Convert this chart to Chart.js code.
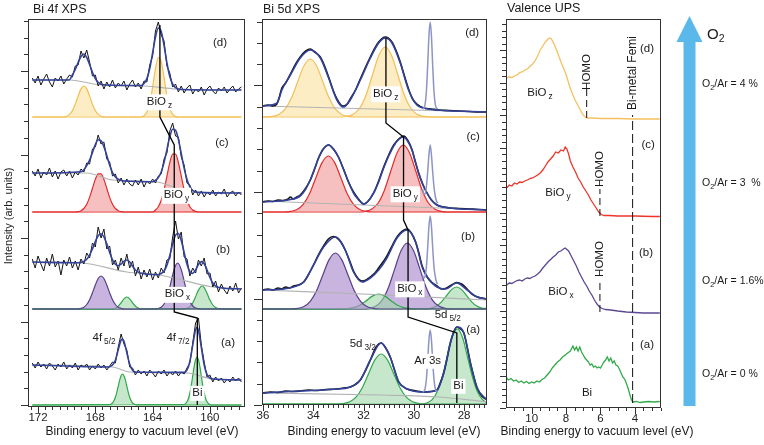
<!DOCTYPE html>
<html><head><meta charset="utf-8">
<script src="https://cdn.jsdelivr.net/npm/chart.js@4.4.1/dist/chart.umd.min.js"></script>
<style>
html,body{margin:0;padding:0;background:#fff;}
#wrap{position:relative;width:764px;height:445px;overflow:hidden;font-family:"Liberation Sans",Arial,sans-serif;color:#1a1a1a;}
canvas{position:absolute;left:0;top:0;}
.t{position:absolute;white-space:nowrap;line-height:14px;}
.xt{position:absolute;width:260px;text-align:center;font-size:12px;line-height:14px;top:424px;white-space:nowrap;}
.ra{position:absolute;left:702px;font-size:10.5px;line-height:12px;white-space:nowrap;}
sub{font-size:70%;vertical-align:-3px;line-height:0;}
</style></head><body>
<div id="wrap">
<canvas id="c1" width="764" height="445"></canvas>
<canvas id="c2" width="764" height="445"></canvas>
<canvas id="c3" width="764" height="445"></canvas>
<svg width="764" height="445" style="position:absolute;left:0;top:0">
<polygon points="689.5,16 702.5,42 695.5,42 695.5,406 683.5,406 683.5,42 676.5,42" fill="#5ab8ea"/>
</svg>
<div class="t" style="left:33px;top:2px;font-size:12.5px">Bi 4f XPS</div>
<div class="t" style="left:263px;top:2px;font-size:12.5px">Bi 5d XPS</div>
<div class="t" style="left:507px;top:1px;font-size:12.5px">Valence UPS</div>
<div class="t" style="left:8px;top:216px;font-size:11px;transform:translate(-50%,-50%) rotate(-90deg);">Intensity (arb. units)</div>
<div class="xt" style="left:12px">Binding energy to vacuum level (eV)</div>
<div class="xt" style="left:254px">Binding energy to vacuum level (eV)</div>
<div class="xt" style="left:467px">Binding energy to vacuum level (eV)</div>
<div class="t" style="left:707px;top:27px;font-size:15px;">O<sub>2</sub></div>
<div class="ra" style="top:77px">O<sub>2</sub>/Ar = 4 %</div>
<div class="ra" style="top:176px">O<sub>2</sub>/Ar = 3 &nbsp;%</div>
<div class="ra" style="top:274px">O<sub>2</sub>/Ar = 1.6%</div>
<div class="ra" style="top:367px">O<sub>2</sub>/Ar = 0 %</div>
</div>
<script>
const FF = '"Liberation Sans", Arial, sans-serif';

// ================= Panel 1 : Bi 4f XPS =================
const bi4fTicks = [172, 168, 164, 160];
// raw counts on a 0.2 eV grid from 172.4 eV down to 157.8 eV
const rawD1 = [329,324,331,322,328,333,325,320,329,326,331,323,328,332,330,341,342,356,349,357,345,331,332,321,326,318,325,320,327,319,324,321,326,317,323,327,320,324,318,326,325,342,351,376,385,372,366,341,334,320,323,315,321,314,319,322,313,318,315,320,312,318,321,316,313,319,316,320,314,318,321,315,318,320];
const rawC1 = [236,231,238,229,235,232,239,230,236,228,235,237,231,236,229,235,232,238,235,244,243,258,260,272,263,265,248,245,231,233,224,229,222,228,223,221,227,222,228,220,226,223,228,224,231,233,248,254,276,284,271,270,250,242,224,222,212,217,211,216,210,215,212,217,211,215,213,218,210,214,216,211,215,212];
const rawB1 = [148,139,151,143,136,149,141,153,140,146,132,147,141,150,139,146,137,148,143,154,149,164,160,180,169,178,158,161,142,147,137,149,141,153,139,146,131,140,128,137,130,138,127,135,129,139,134,147,148,170,186,168,175,150,148,131,139,134,147,141,149,133,134,120,126,115,123,117,113,121,116,124,114,119];
const rawA1 = [44,39,45,40,43,38,44,41,37,43,40,45,38,42,39,44,37,42,40,43,37,41,38,43,39,42,37,41,45,44,60,73,63,57,40,39,32,37,33,36,31,37,34,30,36,33,37,31,35,32,36,31,35,33,39,44,64,84,89,62,45,30,32,25,30,26,29,24,28,25,30,26,29,25];
const e4f = rawD1.map((_, i) => +(172.4 - 0.2 * i).toFixed(1));

const envD1 = [[172.4,327],[170.0,327],[169.8,327.3],[169.6,332],[169.4,337.5],[169.2,344.5],[169.0,350.5],[168.8,353],[168.6,349.5],[168.4,342.5],[168.2,334.5],[168.0,328.5],[167.8,324.5],[167.6,322.8],[167.2,322],[164.8,321.5],[164.6,323.6],[164.4,328.4],[164.2,338.5],[164.0,354],[163.8,370],[163.6,379],[163.4,375.5],[163.2,361.5],[163.0,344],[162.8,330.5],[162.6,322.8],[162.4,319.4],[162.0,317.5],[157.8,317]];
const envC1 = [[172.4,234],[169.0,235.3],[168.8,237.3],[168.6,241.3],[168.4,246.9],[168.2,254.5],[168.0,262.4],[167.8,267.3],[167.6,266.3],[167.4,260.4],[167.2,251.5],[167.0,241.9],[166.8,234.3],[166.6,230.1],[166.4,227.9],[166.2,226.5],[165.6,225.8],[164.0,225.2],[163.8,226.8],[163.6,229.4],[163.4,235],[163.2,244.6],[163.0,257.4],[162.8,270.1],[162.6,277.8],[162.4,276.8],[162.2,267.6],[162.0,253.3],[161.8,238.8],[161.6,227.5],[161.4,220.3],[161.2,216.5],[161.0,215.1],[160.8,214.6],[157.8,214]];
const envB1 = [[172.4,145],[169.2,144.2],[169.0,144.7],[168.8,145.6],[168.6,147.7],[168.4,151.8],[168.2,158.1],[168.0,165.4],[167.8,171.3],[167.6,173.3],[167.4,170.2],[167.2,163.1],[167.0,154.6],[166.8,147.1],[166.6,142.7],[166.4,141.3],[166.2,143],[166.0,145.7],[165.8,147],[165.6,145],[165.4,140.7],[165.2,137],[165.0,134.9],[164.8,133.7],[163.8,132.3],[163.6,132.5],[163.4,133.5],[163.2,136],[163.0,141.9],[162.8,151.5],[162.6,163.1],[162.4,171.9],[162.2,173.5],[162.0,166.5],[161.8,154.6],[161.6,142.7],[161.4,135.3],[161.2,133.6],[161.0,137.1],[160.8,142.4],[160.6,145.4],[160.4,143.3],[160.2,137],[160.0,129.5],[159.8,124],[159.6,120.9],[159.4,119.7],[159.0,118.8],[157.8,118]];
const envA1 = [[172.4,42],[167.2,40],[167.0,40.3],[166.8,42],[166.6,46.7],[166.4,57.3],[166.2,66.8],[166.1,68],[166.0,65.8],[165.8,54.3],[165.6,42.7],[165.4,36.8],[165.2,34.9],[165.0,34.7],[161.8,34.6],[161.6,37.2],[161.4,45.3],[161.2,61.7],[161.0,77.4],[160.9,79.6],[160.8,76.7],[160.6,59.7],[160.4,42],[160.2,32.5],[160.0,29.1],[159.8,28],[157.8,27]];

const bgD1 = [[172.4,327],[169.8,327],[167.6,322],[164.6,321],[162.4,318],[161.0,317],[157.8,317]];
const bgC1 = [[172.4,234],[168.6,234],[166.8,227],[163.7,225],[161.4,215],[157.8,214]];
const bgB1 = [[172.4,145],[168.9,144],[165.8,135],[163.5,132],[159.8,120],[157.8,118]];
const bgA1 = [[172.4,42],[166.8,40],[165.6,35],[161.6,34],[159.8,28],[157.8,27]];

const yelD1a = [[172.4,290],[170.2,290],[170.0,290.9],[169.8,292.6],[169.6,296.4],[169.4,302.7],[169.2,310.9],[169.0,318.1],[168.8,321],[168.6,318.1],[168.4,310.9],[168.2,302.7],[168.0,296.4],[167.8,292.6],[167.6,290.9],[167.4,290],[157.8,290]];
const yelD1b = [[172.4,290],[164.8,290],[164.6,291.3],[164.4,294.9],[164.2,303.9],[164.0,319.8],[163.8,338.3],[163.6,349.5],[163.4,345.5],[163.2,329.3],[163.0,311.1],[162.8,298.6],[162.6,292.6],[162.4,290.6],[162.2,290],[157.8,290]];
const redC1a = [[172.4,195],[169.4,195],[169.2,195.4],[169.0,196.3],[168.8,198.5],[168.6,202.7],[168.4,209.6],[168.2,218.7],[168.0,227.6],[167.8,233.2],[167.6,233.2],[167.4,227.6],[167.2,218.7],[167.0,209.6],[166.8,202.7],[166.6,198.5],[166.4,196.3],[166.2,195.4],[166.0,195],[157.8,195]];
const redC1b = [[172.4,195],[164.0,195],[163.8,197],[163.6,200.3],[163.4,206.7],[163.2,217.1],[163.0,230.8],[162.8,244.3],[162.6,252.8],[162.4,252.8],[162.2,244.3],[162.0,230.8],[161.8,217.1],[161.6,206.7],[161.4,200.3],[161.2,197],[161.0,195.6],[160.8,195],[157.8,195]];
const purB1a = [[172.4,98],[169.2,98],[169.0,98.7],[168.8,99.8],[168.6,102.5],[168.4,107.2],[168.2,114.1],[168.0,122],[167.8,128.5],[167.6,131],[167.4,128.5],[167.2,122],[167.0,114.1],[166.8,107.2],[166.6,102.5],[166.4,99.8],[166.2,98.7],[166.0,98],[157.8,98]];
const grnB1a = [[172.4,98],[166.8,98],[166.6,98.9],[166.4,100.8],[166.2,104.2],[166.0,108.2],[165.8,110],[165.6,108.2],[165.4,104.2],[165.2,100.8],[165.0,98.9],[164.8,98],[157.8,98]];
const purB1b = [[172.4,98],[163.8,98],[163.6,98.5],[163.4,99.8],[163.2,103],[163.0,109.5],[162.8,119.8],[162.6,132],[162.4,141.5],[162.25,144],[162.0,137.4],[161.8,125.9],[161.6,114.2],[161.4,105.7],[161.2,101],[161.0,99],[160.8,98.3],[160.6,98],[157.8,98]];
const grnB1b = [[172.4,98],[161.8,98],[161.6,98.7],[161.4,100.4],[161.2,104.1],[161.0,110.2],[160.8,116.9],[160.55,121],[160.4,119.4],[160.2,113.7],[160.0,106.9],[159.8,102],[159.6,99.4],[159.4,98.4],[159.2,98],[157.8,98]];
const grnA1a = [[172.4,2],[167.0,2.3],[166.9,2.9],[166.8,4],[166.7,6.2],[166.6,9.7],[166.5,14.7],[166.4,20.8],[166.3,26.8],[166.2,31.3],[166.1,33],[166.0,31.3],[165.9,26.8],[165.8,20.8],[165.7,14.7],[165.6,9.7],[165.5,6.2],[165.4,4],[165.3,2.9],[165.2,2.3],[165.1,2],[157.8,2]];
const grnA1b = [[172.4,2],[161.8,2.5],[161.7,3.4],[161.6,5.2],[161.5,8.5],[161.4,14],[161.3,21.7],[161.2,31.1],[161.1,40.4],[161.0,47.4],[160.9,50],[160.8,47.4],[160.7,40.4],[160.6,31.1],[160.5,21.7],[160.4,14],[160.3,8.5],[160.2,5.2],[160.1,3.4],[160.0,2.5],[159.9,2],[157.8,2]];
const guide1 = [[163.49,382],[163.49,290],[162.49,262],[162.49,95],[160.88,89],[160.88,2]];
const labels1 = [
  {x:163.52,y:305.5,t:'BiO',s:'z',box:true},{x:162.34,y:212,t:'BiO',s:'y',box:true},{x:162.27,y:113,t:'BiO',s:'x',box:true},
  {x:167.39,y:69,t:'4f',s:'5/2'},{x:162.23,y:69,t:'4f',s:'7/2'},{x:160.87,y:14,t:'Bi',box:true},
  {x:159.3,y:364,t:'(d)'},{x:159.16,y:264,t:'(c)'},{x:159.09,y:157,t:'(b)'},{x:158.74,y:64,t:'(a)'}];

// ================= Panel 2 : Bi 5d XPS =================
const bi5dTicks = [36, 34, 32, 30, 28];
const rawD2 = [[36.0,299],[35.8,300],[35.6,299],[35.45,301],[35.35,308],[35.25,317],[35.1,322],[34.91,331],[34.7,341],[34.52,348],[34.3,354],[34.12,356],[33.95,353],[33.72,348],[33.55,339],[33.39,328],[33.2,314],[33.06,306],[32.9,300],[32.8,299],[32.65,301],[32.53,306],[32.3,316],[32.13,326],[31.9,339],[31.73,348],[31.55,357],[31.4,363],[31.14,368],[30.87,363],[30.7,354],[30.54,343],[30.35,327],[30.21,316],[30.05,306],[29.88,301],[29.61,297],[29.3,296],[29.0,295],[28.6,294.5],[28.2,294],[27.8,293.5],[27.4,293],[27.1,293]];
const rawC2 = [[36.0,203],[35.8,204],[35.6,203.5],[35.4,205],[35.2,204.5],[35.0,206],[34.91,208],[34.8,206],[34.65,208],[34.52,210],[34.35,215],[34.12,225],[33.95,236],[33.79,247],[33.6,256],[33.39,260],[33.2,256],[33.0,248],[32.8,236],[32.6,223],[32.4,213],[32.26,208],[32.1,203],[32.0,201],[31.85,203],[31.6,212],[31.4,224],[31.2,238],[31.0,250],[30.8,260],[30.6,266],[30.4,269],[30.25,265],[30.07,255],[29.95,244],[29.81,232],[29.65,221],[29.54,215],[29.3,205],[29.08,200],[28.8,198],[28.55,197],[28.2,196.5],[27.8,196],[27.4,195.5],[27.1,195]];
const rawB2 = [[36.0,115],[35.8,116],[35.6,115],[35.4,117],[35.25,116],[35.1,118],[34.95,117],[34.78,119],[34.6,120],[34.38,123],[34.2,130],[33.99,140],[33.8,150],[33.59,159],[33.4,166],[33.2,168.5],[33.05,167],[32.9,163],[32.73,155],[32.55,144],[32.4,134],[32.2,126],[32.06,124],[31.9,125],[31.73,128],[31.55,132],[31.4,137],[31.2,144],[31.07,149],[30.87,159],[30.67,168],[30.45,174],[30.27,176],[30.1,172],[29.93,163],[29.8,152],[29.67,139],[29.47,128],[29.3,123],[29.08,119],[28.9,116],[28.74,116.5],[28.5,120],[28.3,122.5],[28.1,121],[27.88,116],[27.7,111],[27.48,108],[27.3,107],[27.09,106]];
const rawA2 = [[36.0,12],[35.7,13],[35.4,12.5],[35.1,14],[34.8,13.5],[34.52,14],[34.2,15],[33.9,14.5],[33.5,15.5],[33.19,15.7],[32.8,17],[32.53,18],[32.3,21],[32.13,25],[31.95,33],[31.73,45],[31.5,58],[31.3,62],[31.12,57],[30.94,48],[30.77,35],[30.6,23],[30.4,18],[30.27,16],[29.9,14],[29.61,13],[29.3,13.5],[29.08,15],[28.95,22],[28.81,32],[28.68,46],[28.55,62],[28.4,74],[28.28,78],[28.15,76],[28.01,72],[27.88,58],[27.75,42],[27.6,27],[27.48,17],[27.3,9],[27.09,5]];
const envD2 = [[36.0,299],[35.44,302],[35.25,315],[34.91,330],[34.52,347],[34.12,355],[33.72,347],[33.39,327],[33.06,305],[32.8,298],[32.53,305],[32.13,325],[31.73,347],[31.4,362],[31.14,367],[30.87,362],[30.54,342],[30.21,315],[29.88,300],[29.61,297],[29.08,295],[27.09,293]];
const envC2 = [[36.0,203],[35.0,205],[34.52,209],[34.3,216],[34.12,225],[33.95,236],[33.79,247],[33.6,256],[33.39,260],[33.2,256],[33.0,248],[32.8,236],[32.6,223],[32.4,212],[32.26,207],[32.1,202.5],[32.0,201],[31.85,203],[31.6,212],[31.4,223],[31.2,237],[31.0,249],[30.8,259],[30.6,265.5],[30.42,268],[30.25,264],[30.07,255],[29.95,244],[29.81,232],[29.65,221],[29.54,215],[29.3,205],[29.08,200],[28.55,197],[27.1,195]];
const envB2 = [[36.0,115],[35.18,116],[34.78,118],[34.38,123],[33.99,140],[33.59,158],[33.12,168],[32.73,155],[32.4,133],[32.06,123],[31.73,127],[31.4,135],[31.07,147],[30.67,167],[30.27,175],[29.93,163],[29.67,138],[29.47,128],[29.08,118],[28.74,116],[28.3,122],[27.88,115],[27.48,108],[27.09,106]];
const envA2 = [[36.0,12],[34.52,14],[33.19,15.7],[32.53,18],[32.13,25],[31.73,45],[31.3,62],[30.94,48],[30.6,23],[30.27,16],[29.61,13],[29.08,15],[28.81,32],[28.55,62],[28.28,78],[28.01,72],[27.75,42],[27.48,17],[27.09,5]];
const bgD2 = [[36.0,299],[27.09,293]];
const bgC2 = [[36.0,204],[32.0,200],[29.0,197],[27.09,195]];
const bgB2 = [[36.0,115],[31.1,110],[27.09,105]];
const bgA2 = [[36.0,12],[31.3,10],[29.0,8],[27.09,3]];
const arD2 = [[29.65,296],[29.6,297],[29.55,301],[29.5,314],[29.45,339.5],[29.4,369],[29.35,383],[29.3,369],[29.25,339.5],[29.2,314],[29.15,301],[29.1,297],[29.05,296]];
const arC2 = [[29.65,216],[29.6,211],[29.55,211],[29.5,218.5],[29.45,233],[29.4,250],[29.35,260],[29.3,250],[29.25,233],[29.2,218.5],[29.15,209],[29.1,204],[29.05,202]];
const arB2 = [[29.65,129],[29.6,127],[29.55,128.8],[29.5,138.4],[29.45,157],[29.4,178.8],[29.35,189],[29.3,178.8],[29.25,157],[29.2,138.4],[29.15,128.8],[29.1,123],[29.05,121]];
const arA2 = [[29.65,13],[29.6,13.8],[29.55,16.7],[29.5,26],[29.45,44],[29.4,65],[29.35,75],[29.3,65],[29.25,44],[29.2,26],[29.15,16.7],[29.1,14],[29.05,14]];
const yelD2a = [[36.0,288],[35.62,288.6],[35.37,290.6],[35.12,295.8],[34.87,306.9],[34.62,323.2],[34.37,339.2],[34.12,346],[33.87,339.2],[33.62,323.2],[33.37,306.9],[33.12,295.8],[32.87,290.6],[32.62,288.6],[32.37,288],[27.09,288]];
const yelD2b = [[36.0,288],[32.89,288],[32.64,288.8],[32.39,291.1],[32.14,297.5],[31.89,310.8],[31.64,330.5],[31.39,349.7],[31.14,358],[30.89,349.7],[30.64,330.5],[30.39,310.8],[30.14,297.5],[29.89,291.1],[29.64,288.8],[29.39,288],[27.09,288]];
const redC2a = [[36.0,193],[35.15,193],[34.9,193.6],[34.65,195.5],[34.4,200.6],[34.15,211.2],[33.9,227],[33.65,242.4],[33.4,249],[33.15,242.4],[32.9,227],[32.65,211.2],[32.4,200.6],[32.15,195.5],[31.9,193.6],[31.65,193],[27.09,193]];
const redC2b = [[36.0,193],[32.17,193],[31.92,193.7],[31.67,196],[31.42,202],[31.17,214.8],[30.92,233.7],[30.67,252.1],[30.42,260],[30.17,252.1],[29.92,233.7],[29.67,214.8],[29.42,202],[29.17,196],[28.92,193.7],[28.67,193],[27.09,193]];
const purB2a = [[36.0,96],[34.87,96],[34.62,96.6],[34.37,98.5],[34.12,103.6],[33.87,114.2],[33.62,130],[33.37,145.4],[33.12,152],[32.87,145.4],[32.62,130],[32.37,114.2],[32.12,103.6],[31.87,98.5],[31.62,96.6],[31.37,96],[27.09,96]];
const grnB2a = [[36.0,96],[32.9,96],[32.65,96.3],[32.4,97.3],[32.15,99.7],[31.9,104.1],[31.65,108.9],[31.4,111],[31.15,108.9],[30.9,104.1],[30.65,99.7],[30.4,97.3],[30.15,96.3],[29.9,96],[27.09,96]];
const purB2b = [[36.0,96],[32.01,96],[31.76,96.7],[31.51,98.9],[31.26,104.9],[31.01,117.5],[30.76,136.1],[30.51,154.2],[30.26,162],[30.01,154.2],[29.76,136.1],[29.51,117.5],[29.26,104.9],[29.01,98.9],[28.76,96.7],[28.51,96],[27.09,96]];
const grnB2b = [[36.0,96],[29.5,96],[29.3,97],[29.1,99],[28.9,103.2],[28.7,109.4],[28.5,115.4],[28.3,118],[28.1,115.4],[27.9,109.4],[27.7,103.2],[27.5,99],[27.3,97],[27.09,96.4]];
const grnA2a = [[36.0,1],[33.05,1],[32.8,1.5],[32.55,3.2],[32.3,7.8],[32.05,17.2],[31.8,31.3],[31.55,45.1],[31.3,51],[31.05,45.1],[30.8,31.3],[30.55,17.2],[30.3,7.8],[30.05,3.2],[29.8,1.5],[29.55,1],[27.09,1]];
const grnA2b = [[36.0,1],[29.67,1],[29.47,2.3],[29.27,5.4],[29.07,13.2],[28.87,28.1],[28.67,48.7],[28.47,68],[28.27,76],[28.07,68],[27.87,48.7],[27.67,28.1],[27.47,13.2],[27.27,5.4],[27.09,2.5]];
const guide2 = [[31.11,367],[31.11,282],[30.41,268],[30.41,185],[30.23,175],[30.23,88],[28.29,72],[28.29,2]];
const labels2 = [
  {x:31.12,y:311.5,t:'BiO',s:'z',box:true},{x:30.34,y:211.5,t:'BiO',s:'y',box:true},{x:30.16,y:116.5,t:'BiO',s:'x',box:true},
  {x:28.65,y:90,t:'5d',s:'5/2'},{x:32.03,y:61,t:'5d',s:'3/2'},{x:29.45,y:44,t:'Ar 3s',box:true},{x:28.23,y:19,t:'Bi',box:true},
  {x:27.68,y:372,t:'(d)'},{x:27.64,y:268,t:'(c)'},{x:27.84,y:168,t:'(b)'},{x:27.64,y:75,t:'(a)'}];

// ================= Panel 3 : Valence UPS =================
const upsTicks = [10, 8, 6, 4];
const upsD = [[11.45,330],[11.3,331],[11.15,330.5],[11.0,332],[10.85,333],[10.7,335.5],[10.55,336],[10.4,338],[10.25,339],[10.1,341.5],[9.95,344],[9.8,347],[9.65,352],[9.5,358],[9.35,362],[9.2,366],[9.05,369],[8.95,370],[8.85,369],[8.7,364],[8.55,358],[8.4,351],[8.25,344],[8.1,338],[7.95,331],[7.8,322],[7.65,315],[7.5,309],[7.35,304],[7.2,299],[7.05,294],[6.9,291],[6.75,290],[6.5,290],[6.0,289.5],[5.0,289.5],[4.0,289],[3.0,289],[2.55,289]];
const upsC = [[11.45,220],[11.3,223],[11.15,222],[11.0,225],[10.85,224],[10.7,226],[10.55,225.5],[10.4,227],[10.25,228],[10.1,229.5],[9.95,230],[9.8,231.5],[9.65,233],[9.5,235],[9.35,238],[9.2,242],[9.05,246],[8.9,249],[8.75,252],[8.6,256],[8.45,255],[8.3,258],[8.15,257],[8.05,261],[7.95,259],[7.85,254],[7.75,247],[7.6,241],[7.45,236],[7.3,230],[7.15,226],[7.0,221],[6.85,217],[6.7,213],[6.55,208],[6.4,204],[6.25,200],[6.1,196],[5.95,193.5],[5.8,192.5],[5.5,192.5],[5.0,192],[4.0,192],[3.0,191.5],[2.55,191.5]];
const upsB = [[11.45,123],[11.3,125],[11.15,124.5],[11.0,126],[10.85,127.5],[10.7,128],[10.55,127],[10.4,129],[10.25,130],[10.1,129.5],[9.95,131],[9.8,132],[9.65,134],[9.5,136.5],[9.35,140],[9.2,143],[9.05,146],[8.9,148.5],[8.75,151],[8.6,153],[8.45,156],[8.3,157],[8.15,159],[8.05,160],[7.95,158.5],[7.85,157],[7.7,152],[7.55,147],[7.4,142],[7.25,136],[7.1,131],[6.95,126],[6.8,122],[6.65,117],[6.5,113],[6.35,108],[6.2,104],[6.05,101],[5.9,99.5],[5.7,98.5],[5.4,98],[5.0,97],[4.5,96],[4.0,95.5],[3.5,95],[3.0,95],[2.55,95]];
const upsA = [[11.45,30],[11.35,28],[11.2,29.5],[11.05,27],[10.9,28],[10.75,25.5],[10.6,27],[10.45,25],[10.3,26.5],[10.15,24.5],[10.0,26],[9.85,25],[9.7,27],[9.55,26],[9.4,28.5],[9.25,30],[9.1,33],[8.95,36],[8.8,40],[8.65,43],[8.5,46],[8.35,48],[8.2,51],[8.05,53],[7.9,55],[7.75,57],[7.6,62],[7.5,58],[7.4,61],[7.3,57],[7.2,61],[7.1,56],[7.0,53],[6.9,50],[6.8,48],[6.7,46],[6.6,43],[6.5,44],[6.4,41],[6.3,42],[6.2,40],[6.1,41],[6.0,40],[5.9,43],[5.8,46],[5.7,48],[5.6,51],[5.5,47],[5.4,50],[5.3,45],[5.2,47],[5.1,43],[5.0,42],[4.9,39],[4.8,35],[4.7,31],[4.6,29],[4.5,25],[4.4,20],[4.3,14],[4.2,8],[4.1,6],[3.9,6.5],[3.7,5.5],[3.5,6],[3.2,6.5],[2.9,6],[2.55,6.5]];
const homoD3 = [[6.8,290],[6.8,319]];
const homoC3 = [[6.03,192],[6.03,219]];
const homoB3 = [[6.03,96],[6.03,129]];
const fermi3 = [[4.13,5],[4.13,293]];
const labels3 = [
  {x:9.52,y:315,t:'BiO',s:'z'},{x:8.47,y:215,t:'BiO',s:'y'},{x:8.3,y:116,t:'BiO',s:'x'},{x:6.78,y:15,t:'Bi'},
  {x:3.29,y:359,t:'(d)'},{x:3.23,y:263,t:'(c)'},{x:3.35,y:155,t:'(b)'},{x:3.29,y:63,t:'(a)'},
  {x:6.8,y:336,t:'HOMO',rot:true},{x:6.03,y:239,t:'HOMO',rot:true},{x:6.03,y:149,t:'HOMO',rot:true},
  {x:4.13,y:335,t:'Bi-metal Femi',rot:true,size:12}];

// ================= drawing helpers =================
const BLUE = '#33429a', BLACK = '#151515', GRAY = '#b3b3b3', ARC = '#8c95c6';
const YEL = ['#f3bf55','rgba(250,222,150,0.55)'], RED = ['#e52a2a','rgba(238,140,140,0.55)'];
const PUR = ['#56408a','rgba(170,140,205,0.65)'], GRN = ['#2fa84a','rgba(160,215,170,0.6)'];

function line(data, color, width, extra) {
  return Object.assign({data, borderColor: color, borderWidth: width, pointRadius: 0, fill: false, tension: 0}, extra || {});
}
function smooth(data, color, width) { return line(data, color, width, {cubicInterpolationMode: 'monotone'}); }
function comp(data, c, base) { return line(data, c[0], 1.2, {cubicInterpolationMode: 'monotone', fill: {value: base}, backgroundColor: c[1]}); }
function grid(vals, xs) { return vals.map((v, i) => [xs[i], v]); }

function drawLabel(ctx, px, py, L) {
  const size = L.size || 11.5;
  const f = size + 'px ' + FF, fs = (size * 0.72) + 'px ' + FF;
  ctx.font = f; const w1 = ctx.measureText(L.t).width;
  let w2 = 0; if (L.s) { ctx.font = fs; w2 = ctx.measureText(L.s).width + 2; }
  const w = w1 + w2;
  ctx.save(); ctx.translate(px, py); if (L.rot) ctx.rotate(-Math.PI / 2);
  if (L.box) { ctx.fillStyle = '#fff'; ctx.fillRect(-w / 2 - 2, -size * 0.62, w + 4, size * 1.3 + (L.s ? 1 : 0)); }
  ctx.fillStyle = '#1a1a1a'; ctx.textBaseline = 'middle'; ctx.textAlign = 'left';
  ctx.font = f; ctx.fillText(L.t, -w / 2, 0);
  if (L.s) { ctx.font = fs; ctx.fillText(L.s, -w / 2 + w1 + 2, size * 0.33); }
  ctx.restore();
}

const decor = {
  id: 'decor',
  afterDatasetsDraw(chart, args, o) {
    const ctx = chart.ctx, a = chart.chartArea, xs = chart.scales.x, ys = chart.scales.y;
    ctx.save();
    ctx.strokeStyle = '#333'; ctx.lineWidth = 1;
    ctx.strokeRect(Math.round(a.left) + 0.5, Math.round(a.top) + 0.5, Math.round(a.right - a.left) - 1, Math.round(a.bottom - a.top) - 1);
    ctx.beginPath();
    for (let i = 0; i < o.yCount; i++) {
      const p = Math.round(ys.getPixelForValue(o.yStart + i * o.yStep)) + 0.5;
      const L = i % 5 === 0 ? o.yMajor : o.yMinor;
      ctx.moveTo(a.left - L, p); ctx.lineTo(a.left, p);
    }
    const k0 = Math.ceil(xs.min / o.xStep - 1e-6), k1 = Math.floor(xs.max / o.xStep + 1e-6);
    for (let k = k0; k <= k1; k++) {
      const v = k * o.xStep, r = v / o.xMajor, maj = Math.abs(r - Math.round(r)) < 1e-6;
      const p = Math.round(xs.getPixelForValue(v)) + 0.5;
      ctx.moveTo(p, a.bottom); ctx.lineTo(p, a.bottom + (maj ? 6 : 3));
    }
    ctx.stroke();
    for (const L of o.labels) drawLabel(ctx, xs.getPixelForValue(L.x), ys.getPixelForValue(L.y), L);
    ctx.restore();
  }
};

function makeChart(id, c) {
  return new Chart(document.getElementById(id), {
    type: 'line',
    data: {datasets: c.datasets},
    plugins: [decor],
    options: {
      responsive: false, animation: false, devicePixelRatio: 1,
      layout: {padding: {left: c.left, right: 764 - c.right, top: c.top, bottom: 0}},
      plugins: {legend: {display: false}, tooltip: {enabled: false}, decor: c.decor},
      scales: {
        x: {type: 'linear', reverse: true, min: c.xmin, max: c.xmax,
            afterFit: s => { s.height = 445 - c.bottom; },
            afterBuildTicks: s => { s.ticks = c.ticks.map(v => ({value: v})); },
            grid: {display: false, drawTicks: false}, border: {display: false},
            ticks: {autoSkip: false, maxRotation: 0, padding: 4, color: '#222', font: {family: FF, size: 11.5}}},
        y: {type: 'linear', display: false, min: 0, max: c.ymax}
      }
    }
  });
}

makeChart('c1', {
  left: 28, right: 245, top: 19, bottom: 407, xmin: 157.55, xmax: 172.7, ymax: 388, ticks: bi4fTicks,
  decor: {yStart: 2, yStep: 16.7, yCount: 24, yMajor: 7, yMinor: 4, xStep: 0.5, xMajor: 4, labels: labels1},
  datasets: [
    line(guide1, '#000', 1.3),
    smooth(envD1, BLUE, 1.6), smooth(envC1, BLUE, 1.6), smooth(envB1, BLUE, 1.6), smooth(envA1, BLUE, 1.6),
    line(grid(rawD1, e4f), BLACK, 1), line(grid(rawC1, e4f), BLACK, 1), line(grid(rawB1, e4f), BLACK, 1), line(grid(rawA1, e4f), BLACK, 1),
    smooth(bgD1, GRAY, 1.2), smooth(bgC1, GRAY, 1.2), smooth(bgB1, GRAY, 1.2), smooth(bgA1, GRAY, 1.2),
    comp(yelD1a, YEL, 290), comp(yelD1b, YEL, 290), comp(redC1a, RED, 195), comp(redC1b, RED, 195),
    comp(purB1a, PUR, 98), comp(grnB1a, GRN, 98), comp(purB1b, PUR, 98), comp(grnB1b, GRN, 98),
    comp(grnA1a, GRN, 2), comp(grnA1b, GRN, 2)
  ]
});

makeChart('c2', {
  left: 262, right: 487, top: 19, bottom: 405, xmin: 27.09, xmax: 36.04, ymax: 386, ticks: bi5dTicks,
  decor: {yStart: 0, yStep: 21.3, yCount: 19, yMajor: 8, yMinor: 5, xStep: 0.2, xMajor: 2, labels: labels2},
  datasets: [
    line(guide2, '#000', 1.3),
    smooth(arD2, ARC, 1.5), smooth(arC2, ARC, 1.5), smooth(arB2, ARC, 1.5), smooth(arA2, ARC, 1.5),
    smooth(envD2, BLUE, 1.6), smooth(envC2, BLUE, 1.6), smooth(envB2, BLUE, 1.6), smooth(envA2, BLUE, 1.6),
    smooth(rawD2, BLACK, 1.6), smooth(rawC2, BLACK, 1.6), smooth(rawB2, BLACK, 1.6), smooth(rawA2, BLACK, 1.6),
    smooth(bgD2, GRAY, 1.2), smooth(bgC2, GRAY, 1.2), smooth(bgB2, GRAY, 1.2), smooth(bgA2, GRAY, 1.2),
    comp(yelD2a, YEL, 288), comp(yelD2b, YEL, 288), comp(redC2a, RED, 193), comp(redC2b, RED, 193),
    comp(purB2a, PUR, 96), comp(grnB2a, GRN, 96), comp(purB2b, PUR, 96), comp(grnB2b, GRN, 96),
    comp(grnA2a, GRN, 1), comp(grnA2b, GRN, 1)
  ]
});

makeChart('c3', {
  left: 506, right: 661, top: 19, bottom: 408, xmin: 2.48, xmax: 11.49, ymax: 389, ticks: upsTicks,
  decor: {yStart: 0, yStep: 6.5, yCount: 60, yMajor: 6, yMinor: 4, xStep: 0.5, xMajor: 2, labels: labels3},
  datasets: [
    line(homoD3, '#111', 1, {borderDash: [7, 4]}), line(homoC3, '#111', 1, {borderDash: [7, 4]}),
    line(homoB3, '#111', 1, {borderDash: [7, 4]}), line(fermi3, '#111', 1, {borderDash: [9, 4]}),
    line(upsD, '#f5c060', 1.3), line(upsC, '#ee3528', 1.3), line(upsB, '#5c4794', 1.3), line(upsA, '#33aa4a', 1.3)
  ]
});
</script>
</body></html>
